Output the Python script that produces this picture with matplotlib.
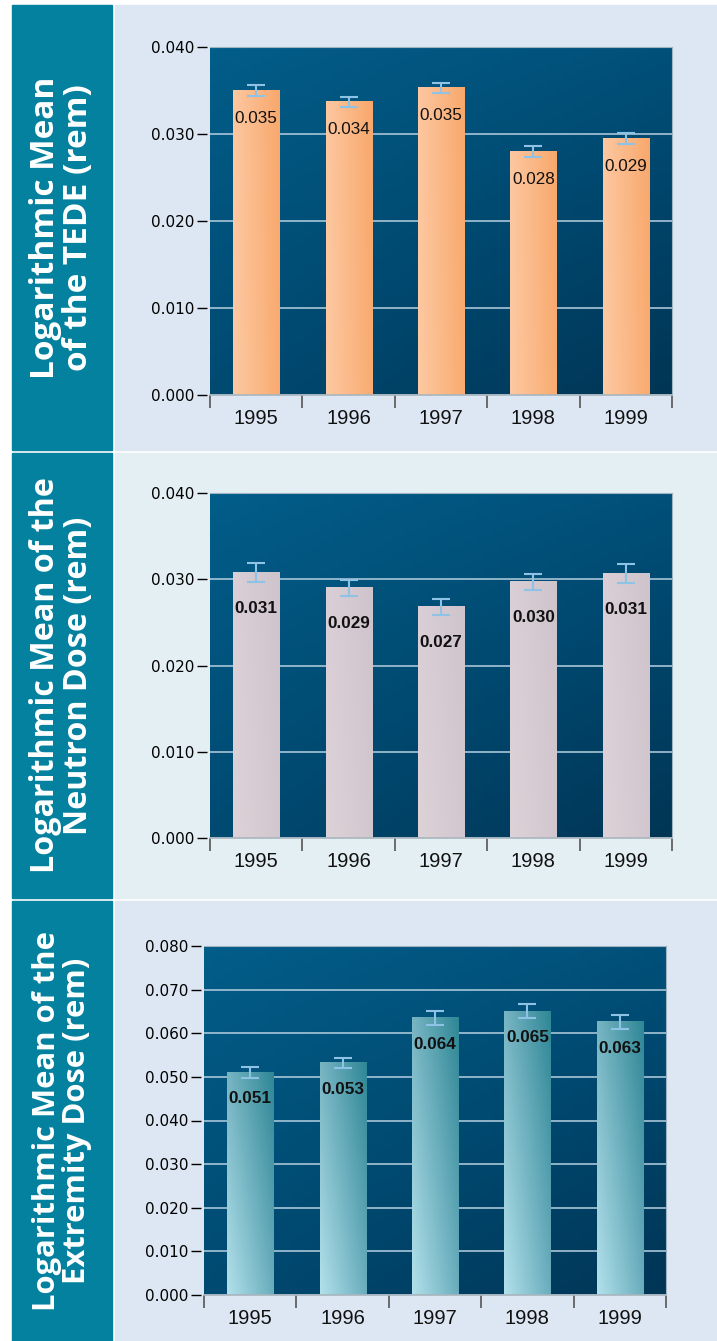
import numpy as np
import matplotlib.pyplot as plt
from matplotlib.patches import Rectangle
from matplotlib.ticker import FormatStrFormatter
from matplotlib.colors import to_rgb

# data
years = ['1995', '1996', '1997', '1998', '1999']

tede = [0.0350, 0.0337, 0.0353, 0.0280, 0.0295]
tede_err = [0.0006, 0.0006, 0.0006, 0.0006, 0.0006]
tede_labels = ['0.035', '0.034', '0.035', '0.028', '0.029']

neutron = [0.0308, 0.0290, 0.0268, 0.0297, 0.0307]
neutron_err = [0.0011, 0.0009, 0.0009, 0.0009, 0.0011]
neutron_labels = ['0.031', '0.029', '0.027', '0.030', '0.031']

extremity = [0.0510, 0.0532, 0.0635, 0.0651, 0.0626]
extremity_err = [0.0013, 0.0012, 0.0017, 0.0016, 0.0016]
extremity_labels = ['0.051', '0.053', '0.064', '0.065', '0.063']

titles = ['Logarithmic Mean\nof the TEDE (rem)',
          'Logarithmic Mean of the\nNeutron Dose (rem)',
          'Logarithmic Mean of the\nExtremity Dose (rem)']

W, H = 717, 1341
fig = plt.figure(figsize=(W / 100, H / 100), dpi=100)
fig.patch.set_facecolor('white')

SANS = ['Liberation Sans', 'DejaVu Sans']


def box(x0, y0, x1, y1):
    # pixel box (top-left origin) -> figure fraction
    return [x0 / W, 1 - y1 / H, (x1 - x0) / W, (y1 - y0) / H]


def quad_image(tl, tr, bl, br, n=64):
    tl, tr, bl, br = [np.array(to_rgb(c)) for c in (tl, tr, bl, br)]
    u = np.linspace(0, 1, n)[:, None]
    v = np.linspace(0, 1, n)[:, None, None]
    top = (1 - u) * tl + u * tr
    bot = (1 - u) * bl + u * br
    return (1 - v) * top[None] + v * bot[None]


bg_img = quad_image('#025d88', '#01507a', '#004a72', '#003555')

panels = [
    dict(y0=5, y1=450, panel_bg='#dce7f3', axbox=(210, 47, 672, 395),
         vals=tede, err=tede_err, labels=tede_labels, ymax=0.040, step=0.010,
         bar=('#fdc7a0', '#f8a86c', '#fdc9a2', '#f9ab70'), bold=False, off=20,
         tsize=24),
    dict(y0=453, y1=898, panel_bg='#e4eff4', axbox=(210, 493, 672, 838),
         vals=neutron, err=neutron_err, labels=neutron_labels, ymax=0.040, step=0.010,
         bar=('#dacfd6', '#cfc4cb', '#dcd2d8', '#d2c7ce'), bold=True, off=26,
         tsize=23.2),
    dict(y0=901, y1=1341, panel_bg='#dce7f3', axbox=(204, 946, 666, 1295),
         vals=extremity, err=extremity_err, labels=extremity_labels, ymax=0.080, step=0.010,
         bar=('#78b5c3', '#2f8796', '#b2e1eb', '#6aadbd'), bold=True, off=19,
         tsize=22.3),
]

for title, p in zip(titles, panels):
    # teal side strip and light panel
    fig.add_artist(Rectangle(box(12, p['y0'], 112, p['y1'])[:2], 100 / W,
                             (p['y1'] - p['y0']) / H, transform=fig.transFigure,
                             color='#04819f', zorder=0))
    fig.add_artist(Rectangle(box(115, p['y0'], W, p['y1'])[:2], (W - 115) / W,
                             (p['y1'] - p['y0']) / H, transform=fig.transFigure,
                             color=p['panel_bg'], zorder=0))
    fig.text(62 / W, 1 - (p['y0'] + p['y1']) / 2 / H, title, rotation=90,
             ha='center', va='center', ma='center', color='white',
             fontsize=p['tsize'], fontweight='bold', family=['Open Sans', 'DejaVu Sans'],
             linespacing=1.02)

    ax = fig.add_axes(box(*p['axbox']))
    ax.set_facecolor('none')
    ax.imshow(bg_img, extent=[0, 1, 0, 1], transform=ax.transAxes,
              aspect='auto', zorder=0)

    x = np.arange(len(years))
    bars = ax.bar(x, p['vals'], width=0.5, color='none', zorder=2)
    grad = quad_image(*p['bar'])
    for r in bars:
        bx, bw, bh = r.get_x(), r.get_width(), r.get_height()
        ax.imshow(grad, extent=[bx, bx + bw, 0, bh], aspect='auto', zorder=2)

    ax.errorbar(x, p['vals'], yerr=p['err'], fmt='none', ecolor='#8ec3e6',
                elinewidth=1.5, capsize=6.5, capthick=1.5, zorder=3)

    for xi, v, lab in zip(x, p['vals'], p['labels']):
        ax.annotate(lab, (xi, v), xytext=(0, -p['off']), textcoords='offset points',
                    ha='center', va='center', fontsize=12.3, family=SANS,
                    fontweight='bold' if p['bold'] else 'normal', color='#111111',
                    zorder=4)

    ax.set_xlim(-0.5, len(years) - 0.5)
    ax.set_ylim(0, p['ymax'])
    ax.set_yticks(np.arange(0, p['ymax'] + 1e-9, p['step']))
    ax.yaxis.set_major_formatter(FormatStrFormatter('%.3f'))
    ax.grid(axis='y', color='#a9c6d8', linewidth=1.2, zorder=1)
    ax.set_axisbelow(True)

    ax.set_xticks(x)
    ax.set_xticklabels(years)
    ax.set_xticks(np.arange(-0.5, len(years), 1), minor=True)
    ax.tick_params(axis='x', which='major', length=0, pad=10, labelsize=14.5)
    ax.tick_params(axis='x', which='minor', length=9, width=1.2, color='#555555')
    ax.tick_params(axis='y', length=7, width=1, color='black', pad=2,
                   labelsize=11)
    for t in ax.get_xticklabels() + ax.get_yticklabels():
        t.set_family(SANS)
        t.set_color('#111111')

    ax.spines['left'].set_position(('outward', 2))
    ax.spines['left'].set_visible(False)
    ax.spines['top'].set_color('#9fb3c0')
    ax.spines['right'].set_color('#9fb3c0')
    ax.spines['bottom'].set_color('#a9b5bd')
    ax.spines['bottom'].set_linewidth(1.2)

fig.savefig('out.png', dpi=100)
